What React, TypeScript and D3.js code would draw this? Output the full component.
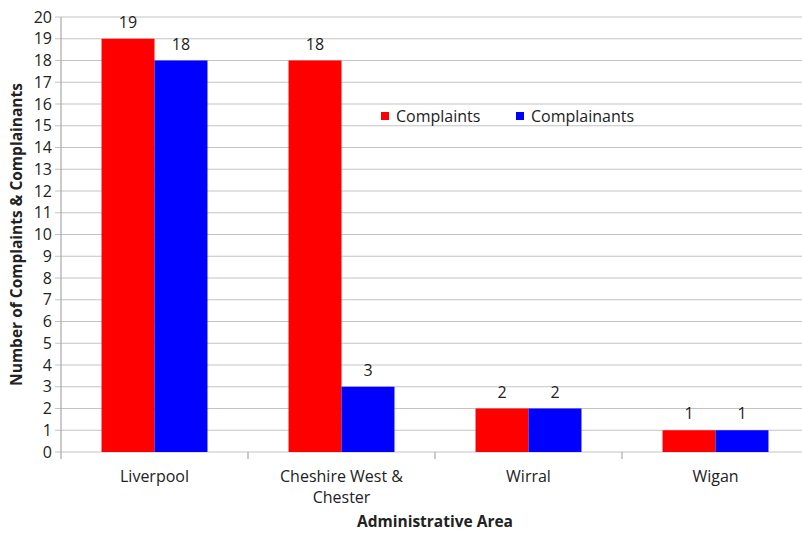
import React from 'react';
import * as d3 from 'd3';

const areas = ['Liverpool', 'Cheshire West & Chester', 'Wirral', 'Wigan'];
const areaLines = [['Liverpool'], ['Cheshire West &', 'Chester'], ['Wirral'], ['Wigan']];
const complaints = [19, 18, 2, 1];
const complainants = [18, 3, 2, 1];
const seriesNames = ['Complaints', 'Complainants'];
const seriesColors = ['#ff0000', '#0000ff'];
const yTicks = d3.range(0, 21);

const W = 802;
const H = 535;
const FONT = "'Open Sans', 'Liberation Sans', sans-serif";

const App: React.FC = () => {
    const left = 61;
    const top = 17;
    const bottom = 452;
    const band = 187;

    const x = d3.scaleBand<string>()
        .domain(areas)
        .range([left, left + band * areas.length])
        .paddingInner(0)
        .paddingOuter(0);
    const inner = d3.scaleBand<string>()
        .domain(seriesNames)
        .range([0, band])
        .paddingInner(0)
        .paddingOuter(0.765);
    const y = d3.scaleLinear().domain([0, 20]).range([bottom, top]);

    const series = [complaints, complainants];

    return (
        <svg width={W} height={H} style={{ position: 'absolute', left: 0, top: 0, background: '#fff' }}
            fontFamily={FONT}>
            {/* gridlines */}
            {yTicks.map(t => (
                <g key={t}>
                    <line x1={left - 6} x2={W} y1={y(t)} y2={y(t)} stroke="#c3c3c3" strokeWidth={1.2} />
                    <text x={left - 9} y={y(t)} dy="0.35em" textAnchor="end" fontSize={16} fill="#222">{t}</text>
                </g>
            ))}
            <line x1={left} x2={left} y1={top} y2={bottom} stroke="#a8a8a8" strokeWidth={1.2} />
            {/* category ticks */}
            {areas.map(a => (
                <line key={a} x1={x(a)!} x2={x(a)!} y1={bottom} y2={bottom + 7} stroke="#a8a8a8" strokeWidth={1.2} />
            ))}
            {/* bars */}
            {areas.map((a, i) => (
                <g key={a} transform={`translate(${x(a)},0)`}>
                    {series.map((s, j) => {
                        const bx = inner(seriesNames[j])!;
                        const bw = inner.bandwidth();
                        return (
                            <g key={j}>
                                <rect x={bx} y={y(s[i])} width={bw} height={bottom - y(s[i])} fill={seriesColors[j]} />
                                <text x={bx + bw / 2} y={y(s[i]) - 11} textAnchor="middle" fontSize={16} fill="#222">{s[i]}</text>
                            </g>
                        );
                    })}
                </g>
            ))}
            {/* category labels */}
            {areas.map((a, i) => (
                <text key={a} x={x(a)! + band / 2} y={482} textAnchor="middle" fontSize={16} fill="#222">
                    {areaLines[i].map((l, k) => (
                        <tspan key={k} x={x(a)! + band / 2} dy={k === 0 ? 0 : 21}>{l}</tspan>
                    ))}
                </text>
            ))}
            <text x={left + (band * areas.length) / 2} y={527} textAnchor="middle" fontSize={15.5} fontWeight="bold" fill="#222">
                Administrative Area
            </text>
            <text transform={`translate(22,${(top + bottom) / 2}) rotate(-90)`} textAnchor="middle" fontSize={15.5}
                fontWeight="bold" fill="#222">
                Number of Complaints &amp; Complainants
            </text>
            {/* legend */}
            {seriesNames.map((n, j) => (
                <g key={n} transform={`translate(${381 + j * 135},116)`}>
                    <rect x={0} y={-4} width={8} height={8} fill={seriesColors[j]} />
                    <text x={15} y={0} dy="0.35em" fontSize={16} fill="#222">{n}</text>
                </g>
            ))}
        </svg>
    );
};

export default App;
